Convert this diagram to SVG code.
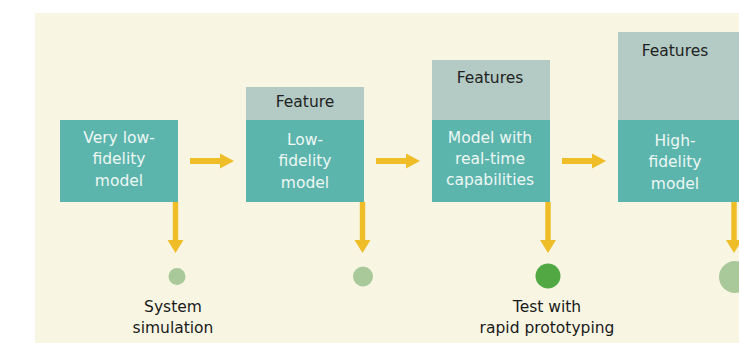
<svg xmlns="http://www.w3.org/2000/svg" width="739" height="343" viewBox="0 0 739 343">
<defs>
<style>
.bg{fill:#f8f6e3}
.body{fill:#5bb5ad}
.head{fill:#b4cbc5}
.bt{font-family:"DejaVu Sans","Liberation Sans",Arial,sans-serif;font-size:15.5px;fill:#eef7f3;text-anchor:middle}
.ht{font-family:"DejaVu Sans","Liberation Sans",Arial,sans-serif;font-size:15.5px;fill:#222;text-anchor:middle}
.lt{font-family:"DejaVu Sans","Liberation Sans",Arial,sans-serif;font-size:15.5px;fill:#1a1a1a;text-anchor:middle}
.arr{fill:#eebd27}
</style>
</defs>
<rect width="739" height="343" fill="#ffffff"/>
<rect class="bg" x="35" y="13" width="704" height="330"/>

<g id="node1">
<rect class="body" x="60" y="120" width="118" height="82"/>
<text class="bt" x="119" y="143">Very low-</text>
<text class="bt" x="119" y="164">fidelity</text>
<text class="bt" x="119" y="186">model</text>
</g>
<g id="node2">
<rect class="head" x="246" y="87" width="118" height="33"/>
<rect class="body" x="246" y="120" width="118" height="82"/>
<text class="ht" x="305" y="107">Feature</text>
<text class="bt" x="305" y="145">Low-</text>
<text class="bt" x="305" y="166">fidelity</text>
<text class="bt" x="305" y="188">model</text>
</g>
<g id="node3">
<rect class="head" x="432" y="60" width="118" height="60"/>
<rect class="body" x="432" y="120" width="118" height="82"/>
<text class="ht" x="490" y="83">Features</text>
<text class="bt" x="490" y="143">Model with</text>
<text class="bt" x="490" y="164">real-time</text>
<text class="bt" x="490" y="185">capabilities</text>
</g>
<g id="node4">
<rect class="head" x="618" y="32" width="121" height="88"/>
<rect class="body" x="618" y="120" width="121" height="82"/>
<text class="ht" x="675" y="56">Features</text>
<text class="bt" x="675" y="146">High-</text>
<text class="bt" x="675" y="167">fidelity</text>
<text class="bt" x="675" y="189">model</text>
</g>

<g id="connectors">
<polygon class="arr" points="190,158 220,158 220,153.5 234,161 220,168.5 220,164 190,164"/>
<polygon class="arr" points="376,158 406,158 406,153.5 420,161 406,168.5 406,164 376,164"/>
<polygon class="arr" points="562,158 592,158 592,153.5 606,161 592,168.5 592,164 562,164"/>
<polygon class="arr" points="172.8,202 178.2,202 178.2,240 183.5,240 175.5,253 167.5,240 172.8,240"/>
<polygon class="arr" points="359.8,202 365.2,202 365.2,240 370.5,240 362.5,253 354.5,240 359.8,240"/>
<polygon class="arr" points="545.3,202 550.7,202 550.7,240 556,240 548,253 540,240 545.3,240"/>
<polygon class="arr" points="731.3,202 736.7,202 736.7,240 742,240 734,253 726,240 731.3,240"/>
</g>

<g id="outcome1">
<circle cx="177" cy="276.5" r="8.5" fill="#a9c99a"/>
<text class="lt" x="173" y="312">System</text>
<text class="lt" x="173" y="333">simulation</text>
</g>
<g id="outcome2">
<circle cx="363" cy="276.5" r="10" fill="#a9c99a"/>
</g>
<g id="outcome3">
<circle cx="548" cy="276" r="12.5" fill="#52a843"/>
<text class="lt" x="547" y="312">Test with</text>
<text class="lt" x="547" y="333">rapid prototyping</text>
</g>
<g id="outcome4">
<circle cx="735" cy="277" r="16" fill="#a9c99a"/>
</g>
</svg>
